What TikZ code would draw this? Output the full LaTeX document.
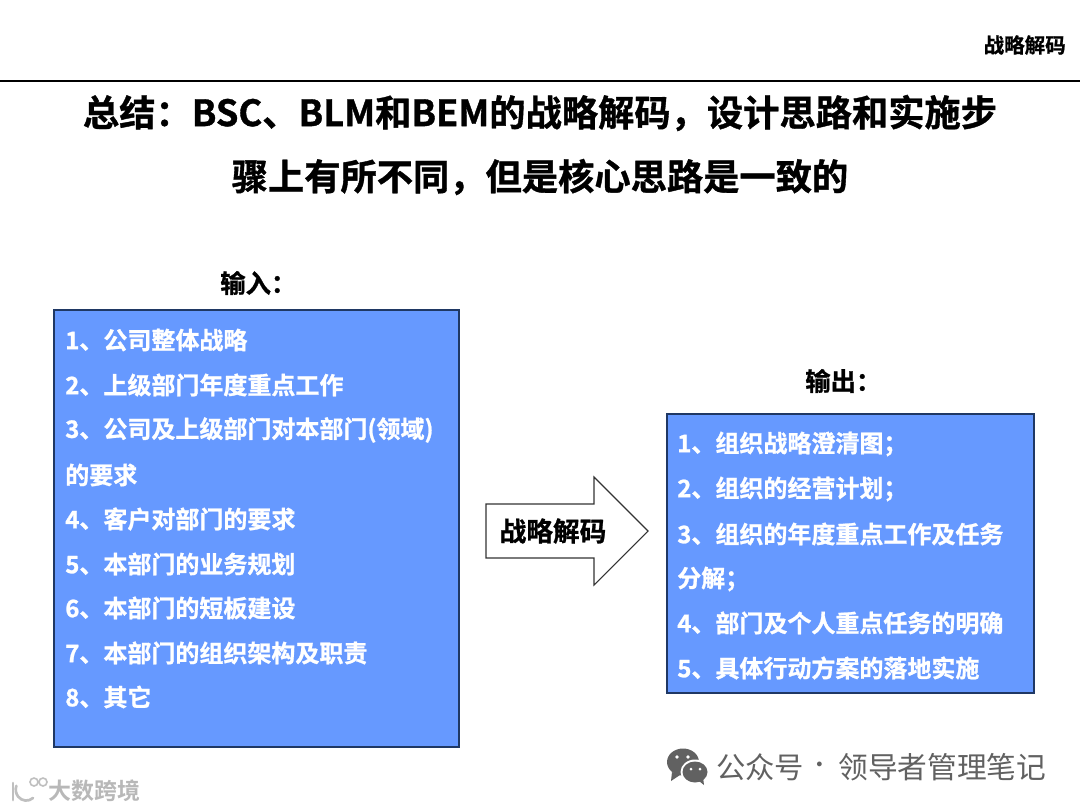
\documentclass[tikz,border=0pt]{standalone}
\usepackage{fontspec}
\setmainfont{Noto Sans CJK SC}[BoldFont={* Bold}]
\newfontfamily\cjkreg{Noto Sans CJK SC}
\newfontfamily\cjkbold{Noto Sans CJK SC Bold}[FakeBold=1]
\newfontfamily\cjkmed{Noto Sans CJK SC Bold}
\newcommand{\fs}[1]{\fontsize{#1}{#1}\selectfont}
\definecolor{boxblue}{HTML}{6699FF}
\definecolor{boxedge}{HTML}{1F3864}
\tikzset{
  x=0.75pt,y=-0.75pt,
  bluebox/.style={draw=boxedge,line width=1.1pt,fill=boxblue},
  item/.style={anchor=west,inner sep=0pt,text=white,font=\cjkbold\fs{18}},
  title/.style={inner sep=0pt,text=black,font=\cjkbold\fs{27.2}},
  head/.style={inner sep=0pt,anchor=west,text=black,font=\cjkbold\fs{19}}
}
\begin{document}
\begin{tikzpicture}
\useasboundingbox (0,0) rectangle (1080,810);
\fill[white] (0,0) rectangle (1080,810);
\coordinate (ruleL) at (0,81);
\coordinate (ruleR) at (1080,81);
\draw[black,line width=0.8pt] (ruleL) -- (ruleR);
\node[inner sep=0pt,anchor=east,font=\cjkbold\fs{15.4}] (tag) at (1066,45) {战略解码};
\node[title] (t1) at (540,113) {总结：BSC、BLM和BEM的战略解码，设计思路和实施步};
\node[title] (t2) at (540,177) {骤上有所不同，但是核心思路是一致的};
\node[head] (inhead) at (220,283) {输入：};
\node[head] (outhead) at (805,381) {输出：};
\path[bluebox] (54,310) rectangle (459,747);
\path[bluebox] (667,414) rectangle (1034,693);
\node[item] (a1) at (65,340) {1、公司整体战略};
\node[item] (a2) at (65,385) {2、上级部门年度重点工作};
\node[item] (a3) at (65,430) {3、公司及上级部门对本部门(领域)};
\node[item] (a3b) at (65,475) {的要求};
\node[item] (a4) at (65,519) {4、客户对部门的要求};
\node[item] (a5) at (65,564) {5、本部门的业务规划};
\node[item] (a6) at (65,608) {6、本部门的短板建设};
\node[item] (a7) at (65,653) {7、本部门的组织架构及职责};
\node[item] (a8) at (65,697) {8、其它};
\node[item] (b1) at (677,444) {1、组织战略澄清图；};
\node[item] (b2) at (677,489) {2、组织的经营计划；};
\node[item] (b3) at (677,534) {3、组织的年度重点工作及任务};
\node[item] (b3b) at (677,579) {分解；};
\node[item] (b4) at (677,623) {4、部门及个人重点任务的明确};
\node[item] (b5) at (677,668) {5、具体行动方案的落地实施};
\draw[fill=white,draw=black!80,line width=0.8pt] (486,504) -- (594,504) -- (594,477) -- (648,531) -- (594,585) -- (594,558) -- (486,558) -- cycle;
\node[inner sep=0pt,font=\cjkbold\fs{20}] (arrowtxt) at (553,531) {战略解码};
% watermarks
\node[inner sep=0pt,anchor=west,text=black!62,font=\cjkreg\fs{22}] (wm) at (716,767) {公众号};
\node[inner sep=0pt,text=black!62,font=\cjkmed\fs{14}] (wmdot) at (820,767) {·};
\node[inner sep=0pt,anchor=west,text=black!62,font=\cjkreg\fs{22.3}] (wmb) at (838,767) {领导者管理笔记};
\fill[black!62] (683,762) ellipse (16 and 13.5);
\fill[black!62] (672,772) -- (671,781) -- (680,775) -- cycle;
\fill[white] (695,772) ellipse (14.5 and 12.5);
\fill[black!62] (695,772) ellipse (12.5 and 10.5);
\fill[black!62] (699,781) -- (704,785) -- (703,777) -- cycle;
\fill[white] (677,757) circle (1.8) (688,757) circle (1.8) (691,769) circle (1.5) (700,769) circle (1.5);
\node[inner sep=0pt,anchor=west,text=black!28,font=\cjkmed\fs{17.2}] (wm2) at (48,791) {大数跨境};
\draw[black!25,line width=2pt,line cap=round] (13,783) -- (13,800);
\draw[black!25,line width=2pt,line cap=round] (33,798) arc (50:200:10.5 and 11);
\draw[black!25,line width=1.2pt] (34,782) circle (4) (43,782) circle (4);
\end{tikzpicture}
\end{document}
